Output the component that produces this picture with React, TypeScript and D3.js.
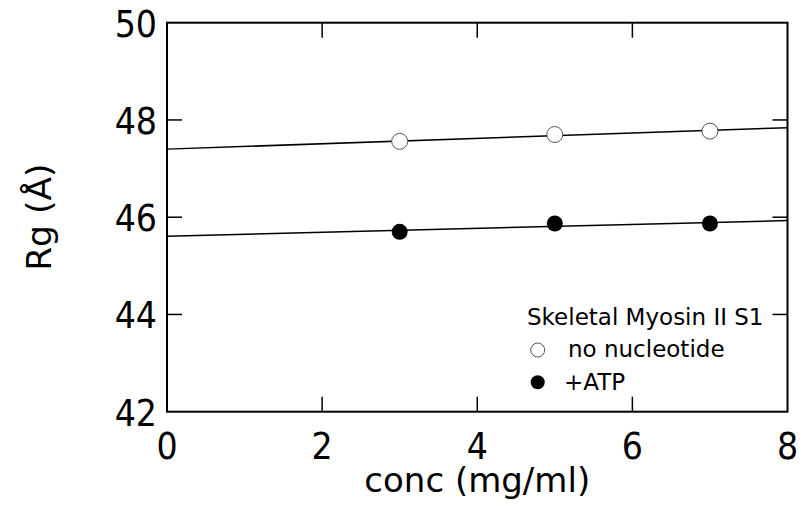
import React from "react";
import * as d3 from "d3";

const concNoNuc = [3, 5, 7];
const rgNoNuc = [47.56, 47.7, 47.77];
const concATP = [3, 5, 7];
const rgATP = [45.7, 45.87, 45.87];
const fitNoNuc = [47.4, 47.84]; // at x=0 and x=8
const fitATP = [45.61, 45.93];
const xTicks = [0, 2, 4, 6, 8];
const yTicks = [42, 44, 46, 48, 50];

const W = 803, H = 506;
const L = 167, R = 787.5, T = 22.7, B = 411.7;
const FONTC = "'DejaVu Sans Condensed', 'DejaVu Sans', sans-serif";
const FONT = "'DejaVu Sans', sans-serif";

export default function App() {
  const x = d3.scaleLinear().domain([0, 8]).range([L, R]);
  const y = d3.scaleLinear().domain([42, 50]).range([B, T]);
  const line = d3.line<[number, number]>().x(d => x(d[0])).y(d => y(d[1]));
  const tl = 15;
  return (
    <svg width={W} height={H} style={{ position: "absolute", left: 0, top: 0, background: "#fff" }} fontFamily={FONT}>
      <rect x={L} y={T} width={R - L} height={B - T} fill="none" stroke="#000" strokeWidth={2} />
      {xTicks.slice(1, -1).map(t => (
        <g key={"xt" + t}>
          <line x1={x(t)} x2={x(t)} y1={B} y2={B - tl} stroke="#000" strokeWidth={1.5} />
          <line x1={x(t)} x2={x(t)} y1={T} y2={T + tl} stroke="#000" strokeWidth={1.5} />
        </g>
      ))}
      {yTicks.slice(1, -1).map(t => (
        <g key={"yt" + t}>
          <line x1={L} x2={L + tl} y1={y(t)} y2={y(t)} stroke="#000" strokeWidth={1.5} />
          <line x1={R} x2={R - tl} y1={y(t)} y2={y(t)} stroke="#000" strokeWidth={1.5} />
        </g>
      ))}
      {xTicks.map(t => (
        <text key={"xl" + t} x={x(t)} y={459} textAnchor="middle" fontSize={37} fontFamily={FONTC}>{t}</text>
      ))}
      {yTicks.map(t => (
        <text key={"yl" + t} x={157} y={y(t) + 14} textAnchor="end" fontSize={37} fontFamily={FONTC}>{t}</text>
      ))}
      <text x={(L + R) / 2} y={492} textAnchor="middle" fontSize={34}>conc (mg/ml)</text>
      <text transform={`translate(51,${(T + B) / 2}) rotate(-90)`} textAnchor="middle" fontSize={34.5}>Rg (Å)</text>
      <path d={line([[0, fitNoNuc[0]], [8, fitNoNuc[1]]]) || ""} stroke="#000" strokeWidth={1.5} fill="none" />
      <path d={line([[0, fitATP[0]], [8, fitATP[1]]]) || ""} stroke="#000" strokeWidth={1.5} fill="none" />
      {concNoNuc.map((c, i) => (
        <circle key={"o" + i} cx={x(c)} cy={y(rgNoNuc[i])} r={8} fill="#fff" stroke="#555" strokeWidth={1} />
      ))}
      {concATP.map((c, i) => (
        <circle key={"f" + i} cx={x(c)} cy={y(rgATP[i])} r={8} fill="#000" />
      ))}
      <text x={527} y={325} fontSize={23}>Skeletal Myosin II S1</text>
      <circle cx={537.7} cy={350} r={7} fill="#fff" stroke="#555" strokeWidth={1} />
      <text x={568} y={357} fontSize={23}>no nucleotide</text>
      <circle cx={537.7} cy={382.3} r={7} fill="#000" />
      <text x={564} y={390} fontSize={23}>+ATP</text>
    </svg>
  );
}
